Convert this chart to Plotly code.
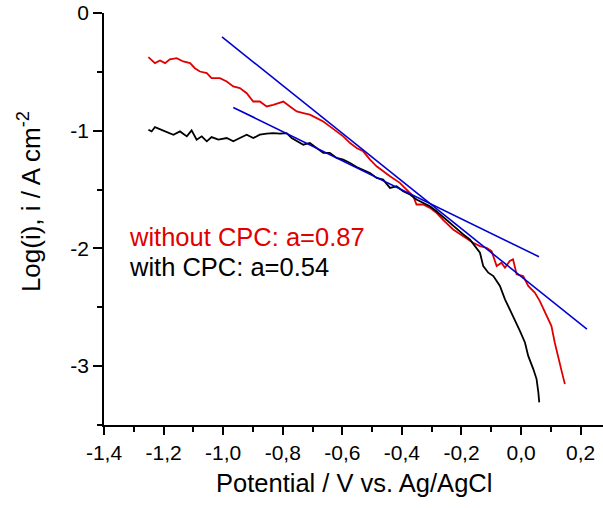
import plotly.graph_objects as go

# ---- data ----
red_x = [-1.251, -1.229, -1.212, -1.195, -1.179, -1.156, -1.134, -1.111, -1.095, -1.078,
         -1.055, -1.039, -1.011, -0.988, -0.966, -0.944, -0.921, -0.899, -0.877, -0.854,
         -0.832, -0.798, -0.776, -0.753, -0.731, -0.709, -0.686, -0.664, -0.642, -0.619,
         -0.597, -0.574, -0.552, -0.530, -0.507, -0.485, -0.463, -0.440, -0.407, -0.384,
         -0.362, -0.351, -0.329, -0.306, -0.284, -0.261, -0.228, -0.194, -0.161, -0.138,
         -0.116, -0.099, -0.082, -0.066, -0.054, -0.038, -0.027, -0.015, 0.007, 0.024,
         0.046, 0.063, 0.085, 0.102, 0.113, 0.125, 0.136, 0.147]
red_y = [-0.375, -0.426, -0.404, -0.426, -0.393, -0.384, -0.412, -0.426, -0.469, -0.497,
         -0.511, -0.554, -0.554, -0.582, -0.624, -0.638, -0.681, -0.752, -0.752, -0.794,
         -0.780, -0.752, -0.794, -0.836, -0.850, -0.864, -0.893, -0.921, -0.963, -1.006,
         -1.048, -1.105, -1.147, -1.175, -1.246, -1.302, -1.345, -1.387, -1.443, -1.500,
         -1.557, -1.627, -1.627, -1.655, -1.698, -1.760, -1.839, -1.896, -1.952, -1.980,
         -1.994, -2.023, -2.150, -2.121, -2.164, -2.107, -2.093, -2.220, -2.235, -2.319,
         -2.375, -2.447, -2.574, -2.659, -2.799, -2.913, -3.040, -3.153]

black_x = [-1.251, -1.240, -1.229, -1.212, -1.190, -1.167, -1.145, -1.122, -1.106, -1.089,
           -1.072, -1.055, -1.039, -1.016, -0.988, -0.966, -0.944, -0.921, -0.899, -0.877,
           -0.854, -0.832, -0.809, -0.787, -0.770, -0.753, -0.731, -0.709, -0.686, -0.664,
           -0.642, -0.619, -0.597, -0.574, -0.552, -0.530, -0.507, -0.485, -0.463, -0.440,
           -0.418, -0.396, -0.373, -0.351, -0.329, -0.306, -0.284, -0.261, -0.228, -0.194,
           -0.172, -0.155, -0.138, -0.127, -0.110, -0.093, -0.071, -0.054, -0.038, -0.021,
           -0.004, 0.013, 0.024, 0.041, 0.052, 0.058, 0.061]
black_y = [-0.992, -1.006, -0.969, -0.986, -1.006, -1.034, -1.006, -1.048, -0.997, -1.076,
           -1.048, -1.090, -1.054, -1.076, -1.062, -1.090, -1.062, -1.034, -1.062, -1.034,
           -1.025, -1.020, -1.025, -1.020, -1.062, -1.090, -1.119, -1.104, -1.147, -1.189,
           -1.189, -1.231, -1.246, -1.274, -1.308, -1.331, -1.359, -1.401, -1.415, -1.486,
           -1.472, -1.514, -1.542, -1.585, -1.613, -1.641, -1.684, -1.736, -1.811, -1.881,
           -1.924, -1.980, -2.036, -2.150, -2.206, -2.235, -2.319, -2.432, -2.517, -2.602,
           -2.701, -2.799, -2.913, -3.025, -3.110, -3.223, -3.308]

fit_red_x = [-1.004, 0.221]
fit_red_y = [-0.203, -2.686]
fit_black_x = [-0.966, 0.060]
fit_black_y = [-0.802, -2.070]

x_tick_vals = [-1.4, -1.2, -1.0, -0.8, -0.6, -0.4, -0.2, 0.0, 0.2]
x_tick_labels = ["-1,4", "-1,2", "-1,0", "-0,8", "-0,6", "-0,4", "-0,2", "0,0", "0,2"]
y_tick_vals = [0, -1, -2, -3]
y_tick_labels = ["0", "-1", "-2", "-3"]

label_red = "without CPC: a=0.87"
label_black = "with CPC: a=0.54"

RED = "#e00000"
BLUE = "#0000d0"
FONT = "Liberation Sans, Arial, sans-serif"

fig = go.Figure()
fig.add_trace(go.Scatter(x=red_x, y=red_y, mode="lines",
                         line=dict(color=RED, width=1.8)))
fig.add_trace(go.Scatter(x=black_x, y=black_y, mode="lines",
                         line=dict(color="black", width=1.8)))
fig.add_trace(go.Scatter(x=fit_red_x, y=fit_red_y, mode="lines",
                         line=dict(color=BLUE, width=1.6)))
fig.add_trace(go.Scatter(x=fit_black_x, y=fit_black_y, mode="lines",
                         line=dict(color=BLUE, width=1.6)))

fig.add_annotation(x=-1.318, y=-1.907, xref="x", yref="y", text=label_red,
                   showarrow=False, xanchor="left", yanchor="middle", borderpad=0,
                   font=dict(family=FONT, size=25.5, color=RED))
fig.add_annotation(x=-1.318, y=-2.161, xref="x", yref="y", text=label_black,
                   showarrow=False, xanchor="left", yanchor="middle", borderpad=0,
                   font=dict(family=FONT, size=25.5, color="black"))

# axis titles
fig.add_annotation(x=0.5, y=-0.141, xref="paper", yref="paper",
                   text="Potential / V vs. Ag/AgCl", showarrow=False,
                   xanchor="center", yanchor="middle",
                   font=dict(family=FONT, size=25.5, color="black"))
fig.add_annotation(x=0, y=0.541, xref="paper", yref="paper", xshift=-75,
                   text="Log(i), i / A cm<sup>-2</sup>", showarrow=False,
                   textangle=-90, xanchor="center", yanchor="middle",
                   font=dict(family=FONT, size=26, color="black"))

fig.update_layout(
    width=603, height=508,
    margin=dict(l=104, r=0, t=13, b=83, autoexpand=False),
    paper_bgcolor="white", plot_bgcolor="white",
    showlegend=False,
    font=dict(family=FONT, color="black"),
)
fig.update_xaxes(range=[-1.4, 0.275], showgrid=False, zeroline=False, automargin=False,
                 showline=True, linecolor="black", linewidth=1.5,
                 ticks="outside", ticklen=8, tickwidth=1.5, tickcolor="black",
                 tickvals=x_tick_vals, ticktext=x_tick_labels,
                 tickfont=dict(family=FONT, size=21, color="black"),
                 minor=dict(ticks="outside", ticklen=5, tickwidth=1.5,
                            tickcolor="black", dtick=0.1, tick0=-1.4, showgrid=False))
fig.update_yaxes(range=[-3.5, 0], showgrid=False, zeroline=False, automargin=False,
                 showline=True, linecolor="black", linewidth=1.5,
                 ticks="outside", ticklen=9, tickwidth=1.5, tickcolor="black",
                 tickvals=y_tick_vals, ticktext=y_tick_labels,
                 tickfont=dict(family=FONT, size=21, color="black"),
                 minor=dict(ticks="outside", ticklen=5, tickwidth=1.5,
                            tickcolor="black", dtick=0.5, tick0=0, showgrid=False))

fig.write_html("out.html", config={"displayModeBar": False},
               post_script="document.body.style.margin='0';document.body.style.overflow='hidden';")
